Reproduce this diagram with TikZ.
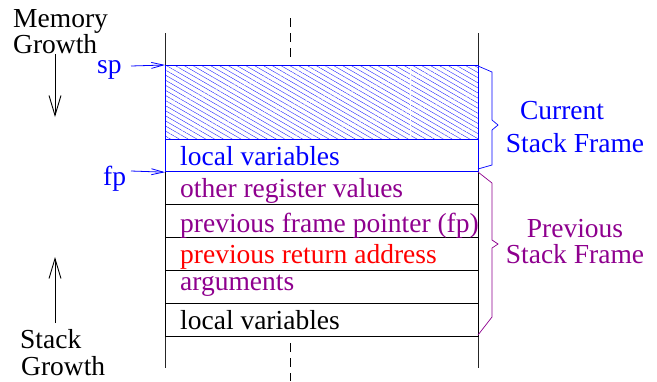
\documentclass[tikz,border=0pt]{standalone}
\usepackage{fontspec}
\setmainfont{Liberation Serif}
\usetikzlibrary{arrows.meta,patterns.meta}
\definecolor{fblue}{RGB}{0,0,255}
\definecolor{fpurple}{RGB}{142,0,142}
\definecolor{fred}{RGB}{255,0,0}
\begin{document}
\begin{tikzpicture}[x=1pt,y=-1pt,
  txt/.style={font=\fontsize{27.5}{30}\selectfont, inner sep=0pt},
  row/.style={draw=black, line width=0.9pt, minimum width=313pt, inner sep=0pt, anchor=north west},
  bluerow/.style={row, draw=fblue, line width=1.2pt},
  ptr/.style={fblue, line width=0.8pt, -{Straight Barb[length=12pt,width=6pt,line width=0.8pt]}},
  growarrow/.style={black, line width=0.9pt, -{Straight Barb[length=20pt,width=12pt,line width=0.9pt]}},
  axis/.style={black!85, line width=0.9pt},
  dashline/.style={black, line width=0.9pt, dash pattern=on 9pt off 6pt},
  bluebrace/.style={fblue, line width=0.7pt},
  purplebrace/.style={fpurple, line width=0.7pt}]
\useasboundingbox (0,0) rectangle (657,381);

% axis lines
\draw[axis] (165,33) coordinate (lt) -- (165,368) coordinate (lb);
\draw[axis] (478,33) coordinate (rt) -- (478,368) coordinate (rb);
\draw[dashline] (290,18) coordinate (dt1) -- (290,60) coordinate (dt2);
\draw[dashline] (290,343) coordinate (db1) -- (290,381) coordinate (db2);

% previous frame rows
\node[row, minimum height=33pt] (r2) at (165,171) {};
\node[row, minimum height=33pt] (r3) at (165,204) {};
\node[row, minimum height=33pt] (r4) at (165,237) {};
\node[row, minimum height=33pt] (r5) at (165,270) {};
\node[row, minimum height=33pt] (r6) at (165,303) {};

% current frame
\node[bluerow, minimum height=74pt,
  pattern={Lines[angle=-30,distance=4.4pt,line width=0.4pt]}, pattern color=fblue!85] (r0) at (165,65) {};
\node[bluerow, minimum height=32pt] (r1) at (165,139) {};
\draw[white, line width=0.6pt] ([xshift=-68pt,yshift=-1pt]r0.north east) -- ([xshift=-68pt,yshift=1pt]r0.south east);

% row texts
\node[txt, anchor=base west, text=fblue]   (t1) at (180,165) {local variables};
\node[txt, anchor=base west, text=fpurple] (t2) at (180,197) {other register values};
\node[txt, anchor=base west, text=fpurple] (t3) at (180,232) {previous frame pointer (fp)};
\node[txt, anchor=base west, text=fred]    (t4) at (180,263) {previous return address};
\node[txt, anchor=base west, text=fpurple] (t5) at (180,290) {arguments};
\node[txt, anchor=base west, text=black]   (t6) at (180,329) {local variables};

% pointers
\node[txt, anchor=base west, text=fblue] (sp) at (97,73) {sp};
\node[txt, anchor=base west, text=fblue] (fp) at (103,185) {fp};
\coordinate (spa) at (131,66);
\coordinate (fpa) at (131,171);
\draw[ptr] (spa) -- (r0.north west);
\draw[ptr] (fpa) -- (r1.south west);

% growth labels
\node[txt, anchor=base west] (mem) at (13,27) {Memory};
\node[txt, anchor=base west] (mgr) at (13,53) {Growth};
\node[txt, anchor=base west] (stk) at (20,348) {Stack};
\node[txt, anchor=base west] (sgr) at (21,375) {Growth};
\coordinate (ma) at (55,54);
\coordinate (mb) at (55,117);
\coordinate (sa) at (55,323);
\coordinate (sb) at (55,257);
\draw[growarrow] (ma) -- (mb);
\draw[growarrow] (sa) -- (sb);

% braces
\draw[bluebrace] (478,66) -- (492,72) -- (492,120) -- (498,125) -- (492,130) -- (492,165) -- (478,169);
\draw[purplebrace] (478,172) -- (492,183) -- (492,240) -- (498,244) -- (492,248) -- (492,317) -- (478,335);

% frame labels
\node[txt, anchor=base, text=fblue] (cf1) at (562,119) {Current};
\node[txt, anchor=base, text=fblue] (cf2) at (575,152) {Stack Frame};
\node[txt, anchor=base, text=fpurple] (pf1) at (575,237) {Previous};
\node[txt, anchor=base, text=fpurple] (pf2) at (575,263) {Stack Frame};
\end{tikzpicture}
\end{document}
